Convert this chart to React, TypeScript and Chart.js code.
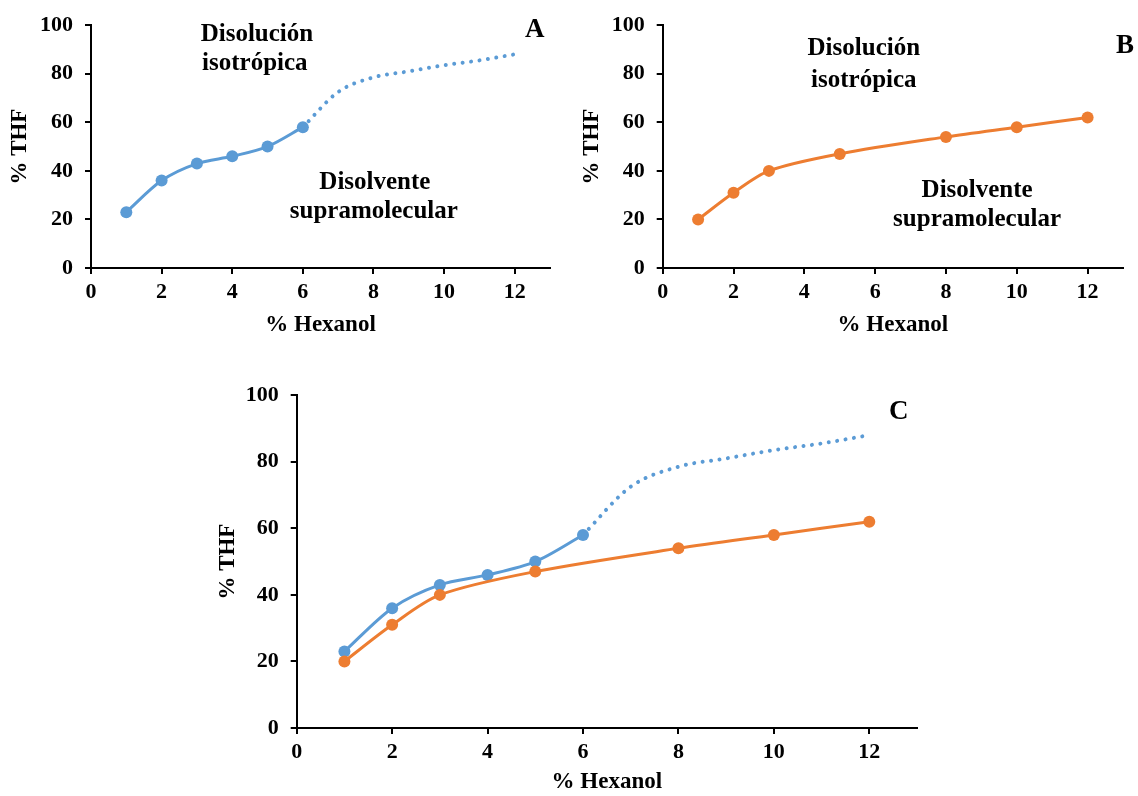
import React, { useEffect, useRef } from "react";
import { Chart, registerables } from "chart.js";

Chart.register(...registerables);

// ---------- data ----------
const blueX = [1, 2, 3, 4, 5, 6];
const blueY = [23, 36, 43, 46, 50, 58];
const dottedX = [6, 7, 8, 9, 10, 11, 12];
const dottedY = [58, 72.5, 78.5, 81, 83.5, 85.5, 88];
const orangeX = [1, 2, 3, 5, 8, 10, 12];
const orangeY = [20, 31, 40, 47, 54, 58, 62];

const xTitle = "% Hexanol";
const yTitle = "% THF";

const annotationsA = [
  { text: "Disolución", x: 4.7, y: 96.1 },
  { text: "isotrópica", x: 4.64, y: 84.2 },
  { text: "Disolvente", x: 8.04, y: 35.2 },
  { text: "supramolecular", x: 8.01, y: 23.3 },
];
const annotationsB = [
  { text: "Disolución", x: 5.68, y: 90.3 },
  { text: "isotrópica", x: 5.68, y: 77.2 },
  { text: "Disolvente", x: 8.88, y: 31.9 },
  { text: "supramolecular", x: 8.88, y: 20.0 },
];
const panelLetters = [
  { text: "A", x: 12.57, y: 98.1 },
  { text: "B", x: 13.06, y: 91.6 },
  { text: "C", x: 12.62, y: 95.0 },
];

const BLUE = "#5B9BD5";
const ORANGE = "#ED7D31";
const FONT = "'Liberation Serif', 'Times New Roman', serif";

const toPts = (xs: number[], ys: number[]) => xs.map((x, i) => ({ x, y: ys[i] }));

const solid = (xs: number[], ys: number[], color: string, r: number) => ({
  data: toPts(xs, ys),
  borderColor: color,
  backgroundColor: color,
  borderWidth: 3,
  pointRadius: r,
  pointHoverRadius: r,
  pointBorderWidth: 0,
  tension: 0.3,
  fill: false,
});

const dotted = () => ({
  data: toPts(dottedX, dottedY),
  borderColor: BLUE,
  backgroundColor: BLUE,
  borderWidth: 4,
  borderDash: [0.01, 8.5],
  borderCapStyle: "round",
  pointRadius: 0,
  pointHoverRadius: 0,
  cubicInterpolationMode: "monotone",
  fill: false,
});

type Ann = { text: string; x: number; y: number; size: number };

const textPlugin = (items: Ann[]) => ({
  id: "textAnn",
  afterDraw(chart: any) {
    const { ctx } = chart;
    const xs = chart.scales.x;
    const ys = chart.scales.y;
    ctx.save();
    ctx.fillStyle = "#000";
    ctx.textAlign = "center";
    ctx.textBaseline = "middle";
    items.forEach((a) => {
      ctx.font = `bold ${a.size}px ${FONT}`;
      ctx.fillText(a.text, xs.getPixelForValue(a.x), ys.getPixelForValue(a.y));
    });
    ctx.restore();
  },
});

type Cfg = {
  left: number;
  top: number;
  width: number;
  height: number;
  yAxisW: number;
  xAxisH: number;
  padTop: number;
  padRight: number;
  yTitlePad: number;
  xTitlePad: number;
  yTickPad: number;
  xTickPad: number;
  datasets: any[];
  anns: Ann[];
};

function ChartPanel({ cfg }: { cfg: Cfg }) {
  const ref = useRef<HTMLCanvasElement | null>(null);
  useEffect(() => {
    if (!ref.current) return;
    const tickFont = { family: FONT, size: 22, weight: "bold" as const };
    const titleFont = { family: FONT, size: 23, weight: "bold" as const };
    const grid = {
      display: true,
      drawOnChartArea: false,
      drawTicks: true,
      tickLength: 6,
      color: "#000",
      lineWidth: 2,
    };
    const border = { display: true, color: "#000", width: 2 };
    const chart = new Chart(ref.current, {
      type: "line",
      data: { datasets: cfg.datasets },
      options: {
        animation: false,
        responsive: false,
        devicePixelRatio: 1,
        events: [],
        layout: { padding: { top: cfg.padTop, right: cfg.padRight, left: 0, bottom: 0 } },
        plugins: { legend: { display: false }, tooltip: { enabled: false } },
        scales: {
          x: {
            type: "linear",
            min: 0,
            max: 13,
            ticks: { stepSize: 2, includeBounds: false, color: "#000", font: tickFont, padding: cfg.xTickPad, maxRotation: 0 },
            grid,
            border,
            title: { display: true, text: xTitle, color: "#000", font: titleFont, padding: { top: 0, bottom: cfg.xTitlePad } },
            afterFit: (s: any) => {
              s.height = cfg.xAxisH;
            },
          },
          y: {
            type: "linear",
            min: 0,
            max: 100,
            ticks: { stepSize: 20, color: "#000", font: tickFont, padding: cfg.yTickPad },
            grid,
            border,
            title: { display: true, text: yTitle, color: "#000", font: titleFont, padding: { top: cfg.yTitlePad, bottom: 0 } },
            afterFit: (s: any) => {
              s.width = cfg.yAxisW;
            },
          },
        },
      } as any,
      plugins: [textPlugin(cfg.anns)],
    });
    return () => chart.destroy();
  }, [cfg]);
  return (
    <canvas
      ref={ref}
      width={cfg.width}
      height={cfg.height}
      style={{ position: "absolute", left: cfg.left, top: cfg.top, width: cfg.width, height: cfg.height }}
    />
  );
}

const cfgA: Cfg = {
  left: 0, top: 0, width: 560, height: 340,
  yAxisW: 91, xAxisH: 72, padTop: 24.5, padRight: 10,
  yTitlePad: 6, xTitlePad: 1, yTickPad: 12, xTickPad: 5,
  datasets: [dotted(), solid(blueX, blueY, BLUE, 6)],
  anns: [...annotationsA.map((a) => ({ ...a, size: 25 })), { ...panelLetters[0], size: 27 }],
};
const cfgB: Cfg = {
  left: 570, top: 0, width: 568, height: 340,
  yAxisW: 92.7, xAxisH: 72, padTop: 24.5, padRight: 15,
  yTitlePad: 8, xTitlePad: 1, yTickPad: 12, xTickPad: 5,
  datasets: [solid(orangeX, orangeY, ORANGE, 6)],
  anns: [...annotationsB.map((a) => ({ ...a, size: 25 })), { ...panelLetters[1], size: 27 }],
};
const cfgC: Cfg = {
  left: 210, top: 370, width: 720, height: 426,
  yAxisW: 86.7, xAxisH: 68, padTop: 19, padRight: 13,
  yTitlePad: 4, xTitlePad: 0, yTickPad: 12, xTickPad: 5,
  datasets: [dotted(), solid(orangeX, orangeY, ORANGE, 6), solid(blueX, blueY, BLUE, 6)],
  anns: [{ ...panelLetters[2], size: 27 }],
};

export default function App() {
  return (
    <div style={{ position: "absolute", left: 0, top: 0, width: 1138, height: 796, background: "#fff", overflow: "hidden" }}>
      <ChartPanel cfg={cfgA} />
      <ChartPanel cfg={cfgB} />
      <ChartPanel cfg={cfgC} />
    </div>
  );
}
